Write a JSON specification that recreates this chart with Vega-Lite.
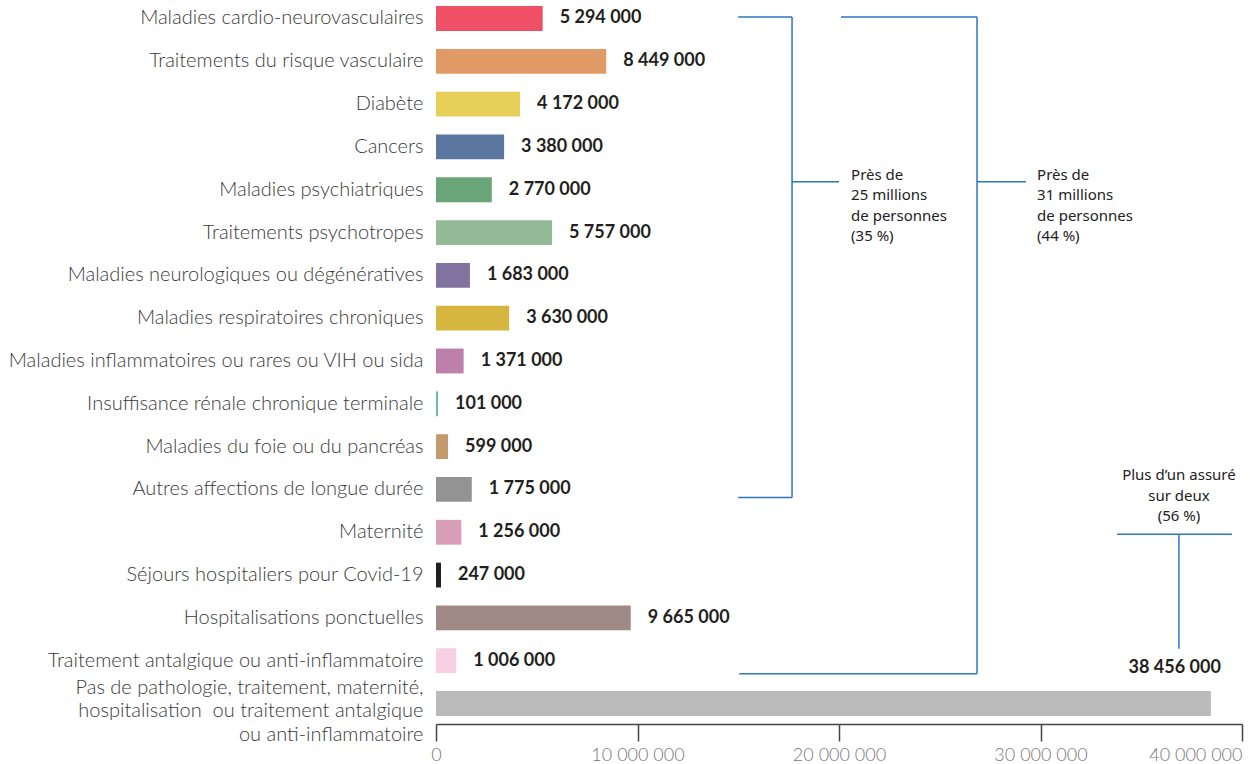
{
  "$schema": "https://vega.github.io/schema/vega-lite/v6.json",
  "width": 806,
  "height": 722,
  "autosize": "none",
  "padding": {"left": 436, "top": 0, "right": 8, "bottom": 42},
  "config": {
    "view": {"stroke": null},
    "font": "Lato",
    "locale": {"number": {"decimal": ",", "thousands": "\u00a0", "grouping": [3], "currency": ["", "\u00a0€"]}}
  },
  "data": {"values": [
    {"category": "Maladies cardio-neurovasculaires", "value": 5294000},
    {"category": "Traitements du risque vasculaire", "value": 8449000},
    {"category": "Diabète", "value": 4172000},
    {"category": "Cancers", "value": 3380000},
    {"category": "Maladies psychiatriques", "value": 2770000},
    {"category": "Traitements psychotropes", "value": 5757000},
    {"category": "Maladies neurologiques ou dégénératives", "value": 1683000},
    {"category": "Maladies respiratoires chroniques", "value": 3630000},
    {"category": "Maladies inflammatoires ou rares ou VIH ou sida", "value": 1371000},
    {"category": "Insuffisance rénale chronique terminale", "value": 101000},
    {"category": "Maladies du foie ou du pancréas", "value": 599000},
    {"category": "Autres affections de longue durée", "value": 1775000},
    {"category": "Maternité", "value": 1256000},
    {"category": "Séjours hospitaliers pour Covid-19", "value": 247000},
    {"category": "Hospitalisations ponctuelles", "value": 9665000},
    {"category": "Traitement antalgique ou anti-inflammatoire", "value": 1006000},
    {"category": "Pas de pathologie, traitement, maternité,\nhospitalisation\u00a0 ou traitement antalgique\nou anti-inflammatoire", "value": 38456000}
  ]},
  "layer": [
    {
      "mark": {"type": "bar"},
      "encoding": {
        "y": {
          "field": "category", "type": "nominal", "sort": null,
          "scale": {"paddingInner": 0.42, "paddingOuter": 0.142},
          "axis": {"title": null, "domain": false, "ticks": false, "labelFont": "Lato", "labelFontWeight": 300, "labelFontSize": 20, "labelColor": "#3a3a3a", "labelPadding": 13, "labelLimit": 0, "labelExpr": "split(datum.label, '\\n')", "labelLineHeight": 23.5,
            "labelOffset": {"condition": {"test": "length(datum.value) > 60", "value": -16}, "value": 0}}
        },
        "x": {
          "field": "value", "type": "quantitative",
          "scale": {"domain": [0, 40000000], "nice": false},
          "axis": {"title": null, "values": [0, 10000000, 20000000, 30000000, 40000000], "format": ",.0f", "grid": false, "domainColor": "#444444", "domainWidth": 1.5, "tickColor": "#444444", "tickSize": 17, "tickWidth": 1.5, "labelFont": "Lato", "labelFontWeight": 300, "labelFontSize": 18, "labelColor": "#777777", "labelPadding": 5, "offset": 2, "labelBound": false, "labelFlush": false, "labelAlign": {"condition": {"test": "datum.value == 40000000", "value": "right"}, "value": "center"}}
        },
        "color": {
          "field": "category", "type": "nominal", "sort": null, "legend": null,
          "scale": {"range": ["#ef5066", "#df9a65", "#e6d05a", "#5b77a0", "#6aa57a", "#94ba98", "#80739f", "#d5b63e", "#bd80ab", "#6fb8b0", "#c39a6b", "#939393", "#d99fb8", "#231f20", "#a08a85", "#f8d0e3", "#b9bab9"]}
        }
      }
    },
    {
      "transform": [{"filter": "datum.value < 30000000"}],
      "mark": {"type": "text", "align": "left", "baseline": "middle", "dx": 17, "font": "Lato", "fontWeight": "bold", "fontSize": 18, "color": "#231f20"},
      "encoding": {
        "y": {"field": "category", "type": "nominal", "sort": null},
        "x": {"field": "value", "type": "quantitative"},
        "text": {"field": "value", "type": "quantitative", "format": ",.0f"}
      }
    },
    {
      "transform": [{"filter": "datum.value >= 30000000"}],
      "mark": {"type": "text", "align": "right", "baseline": "middle", "dx": 10, "dy": -36, "font": "Lato", "fontWeight": "bold", "fontSize": 18, "color": "#231f20"},
      "encoding": {
        "y": {"field": "category", "type": "nominal", "sort": null},
        "x": {"field": "value", "type": "quantitative"},
        "text": {"field": "value", "type": "quantitative", "format": ",.0f"}
      }
    },
    {
      "data": {"values": [{}]},
      "mark": {"type": "rule", "color": "#2b77c0", "strokeWidth": 1.5, "yOffset": -1.5},
      "encoding": {"x": {"datum": 15000000, "type": "quantitative"}, "x2": {"datum": 17670000}, "y": {"datum": "Maladies cardio-neurovasculaires", "type": "nominal"}}
    },
    {
      "data": {"values": [{}]},
      "mark": {"type": "rule", "color": "#2b77c0", "strokeWidth": 1.5, "yOffset": -1.5, "y2Offset": 8},
      "encoding": {"x": {"datum": 17670000, "type": "quantitative"}, "y": {"datum": "Maladies cardio-neurovasculaires", "type": "nominal"}, "y2": {"datum": "Autres affections de longue durée"}}
    },
    {
      "data": {"values": [{}]},
      "mark": {"type": "rule", "color": "#2b77c0", "strokeWidth": 1.5, "yOffset": 8},
      "encoding": {"x": {"datum": 15000000, "type": "quantitative"}, "x2": {"datum": 17670000}, "y": {"datum": "Autres affections de longue durée", "type": "nominal"}}
    },
    {
      "data": {"values": [{}]},
      "mark": {"type": "rule", "color": "#2b77c0", "strokeWidth": 1.5, "yOffset": -8},
      "encoding": {"x": {"datum": 17670000, "type": "quantitative"}, "x2": {"datum": 20000000}, "y": {"datum": "Maladies psychiatriques", "type": "nominal"}}
    },
    {
      "data": {"values": [{}]},
      "mark": {"type": "rule", "color": "#2b77c0", "strokeWidth": 1.5, "yOffset": -1.5},
      "encoding": {"x": {"datum": 20100000, "type": "quantitative"}, "x2": {"datum": 26850000}, "y": {"datum": "Maladies cardio-neurovasculaires", "type": "nominal"}}
    },
    {
      "data": {"values": [{}]},
      "mark": {"type": "rule", "color": "#2b77c0", "strokeWidth": 1.5, "yOffset": -1.5, "y2Offset": 13},
      "encoding": {"x": {"datum": 26850000, "type": "quantitative"}, "y": {"datum": "Maladies cardio-neurovasculaires", "type": "nominal"}, "y2": {"datum": "Traitement antalgique ou anti-inflammatoire"}}
    },
    {
      "data": {"values": [{}]},
      "mark": {"type": "rule", "color": "#2b77c0", "strokeWidth": 1.5, "yOffset": 13},
      "encoding": {"x": {"datum": 15050000, "type": "quantitative"}, "x2": {"datum": 26850000}, "y": {"datum": "Traitement antalgique ou anti-inflammatoire", "type": "nominal"}}
    },
    {
      "data": {"values": [{}]},
      "mark": {"type": "rule", "color": "#2b77c0", "strokeWidth": 1.5, "yOffset": -8},
      "encoding": {"x": {"datum": 26850000, "type": "quantitative"}, "x2": {"datum": 29280000}, "y": {"datum": "Maladies psychiatriques", "type": "nominal"}}
    },
    {
      "data": {"values": [{}]},
      "mark": {"type": "rule", "color": "#2b77c0", "strokeWidth": 1.5, "yOffset": 2},
      "encoding": {"x": {"datum": 33800000, "type": "quantitative"}, "x2": {"datum": 39500000}, "y": {"datum": "Maternité", "type": "nominal"}}
    },
    {
      "data": {"values": [{}]},
      "mark": {"type": "rule", "color": "#2b77c0", "strokeWidth": 1.5, "yOffset": 2, "y2Offset": -12},
      "encoding": {"x": {"datum": 36870000, "type": "quantitative"}, "y": {"datum": "Maternité", "type": "nominal"}, "y2": {"datum": "Traitement antalgique ou anti-inflammatoire"}}
    },
    {
      "data": {"values": [{}]},
      "mark": {"type": "text", "align": "left", "baseline": "top", "dy": -22, "lineHeight": 20.5, "font": "Noto Sans", "fontSize": 15, "color": "#222222"},
      "encoding": {"x": {"datum": 20600000, "type": "quantitative"}, "y": {"datum": "Maladies psychiatriques", "type": "nominal"}, "text": {"value": ["Près de", "25 millions", "de personnes", "(35 %)"]}}
    },
    {
      "data": {"values": [{}]},
      "mark": {"type": "text", "align": "left", "baseline": "top", "dy": -22, "lineHeight": 20.5, "font": "Noto Sans", "fontSize": 15, "color": "#222222"},
      "encoding": {"x": {"datum": 29830000, "type": "quantitative"}, "y": {"datum": "Maladies psychiatriques", "type": "nominal"}, "text": {"value": ["Près de", "31 millions", "de personnes", "(44 %)"]}}
    },
    {
      "data": {"values": [{}]},
      "mark": {"type": "text", "align": "center", "baseline": "top", "dy": -64, "lineHeight": 20.5, "font": "Noto Sans", "fontSize": 15, "color": "#222222"},
      "encoding": {"x": {"datum": 36870000, "type": "quantitative"}, "y": {"datum": "Maternité", "type": "nominal"}, "text": {"value": ["Plus d’un assuré", "sur deux", "(56 %)"]}}
    }
  ]
}
